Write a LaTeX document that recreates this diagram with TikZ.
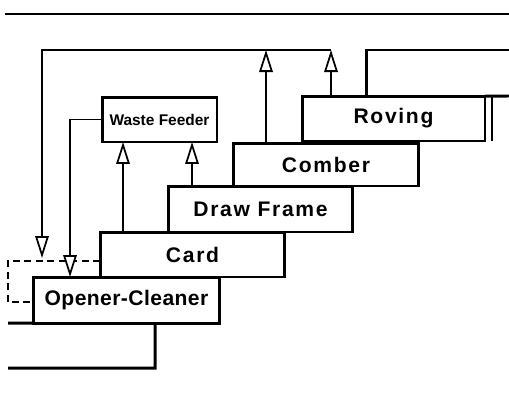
\documentclass[tikz,border=0pt]{standalone}
\usepackage{fontspec}
\setmainfont{Liberation Sans}
\newfontfamily\stagefont[LetterSpace=8]{Liberation Sans}
\newfontfamily\tightfont[LetterSpace=2]{Liberation Sans}
\usepackage{tikz}
\usetikzlibrary{arrows.meta,calc}

\begin{document}
\begin{tikzpicture}[
    x=0.02cm, y=-0.02cm,
    stage/.style={draw, line width=1.7pt, minimum width=3.7cm, minimum height=0.9cm,
                  inner sep=0pt, outer sep=0pt, fill=white,
                  font=\stagefont\bfseries\fontsize{12}{14}\selectfont},
    wall/.style={line width=1.7pt},
    flow/.style={line width=1.1pt, -{Triangle[length=0.44cm, width=0.27cm, fill=white, line width=1pt]}},
    recycle/.style={line width=1.5pt, dash pattern=on 4pt off 2.5pt}
  ]
  \useasboundingbox (0,0) rectangle (509,403);

  % processing stages, stepped
  \node[stage, minimum width=3.74cm, minimum height=0.92cm,
        font=\tightfont\bfseries\fontsize{12}{14}\selectfont] (oc) at (126.5,300) {Opener-Cleaner};
  \node[stage] (card) at (192.5,254.5) {Card};
  \node[stage, minimum height=0.92cm] (drawfr) at (260.5,209) {Draw Frame};
  \node[stage, minimum width=3.72cm, minimum height=0.86cm] (comber) at (326,164.5) {Comber};
  \node[stage, minimum width=3.66cm] (roving) at (393.5,118.5) {Roving};
  \node[stage, minimum width=2.3cm, font=\bfseries\fontsize{8.8}{10}\selectfont] (waste) at (159.5,119.5) {Waste Feeder};

  % outline of the stair
  \draw[wall] (5,14) -- (509,14);
  \draw[wall] (roving.north east) -- (509,96);
  \draw[wall] (366,96) -- (366,50) -- (509,50);
  \draw[line width=1pt] (492,96) -- (492,141);
  \draw[wall] (8,323) -- (oc.south west);
  \draw[wall] ($(oc.south west)+(122,0)$) -- ++(0,45) -- (8,368);

  \coordinate (loopR) at (331,50);
  \coordinate (loopM) at (266,50);
  \coordinate (loopL) at (42,50);
  \coordinate (recyc) at (42,258);
  \coordinate (dashT) at (8,261);
  \coordinate (dashB) at (8,302);
  \coordinate (w1) at ($(waste.south west)+(21,0)$);
  \coordinate (w2) at ($(waste.south west)+(90,0)$);

  % waste return
  \draw[recycle] (card.west |- dashT) -- (dashT) -- (dashB) -- (oc.west |- dashB);
  \draw[flow] (waste.west) -| ($(oc.north west)+(37,0)$);
  \draw[flow] (card.north -| w1) -- (w1);
  \draw[flow] (drawfr.north -| w2) -- (w2);
  \draw[flow] (roving.north -| loopR) -- (loopR);
  \draw[flow] (comber.north -| loopM) -- (loopM);
  \draw[flow] (loopR) -- (loopL) -- (recyc);
\end{tikzpicture}
\end{document}
